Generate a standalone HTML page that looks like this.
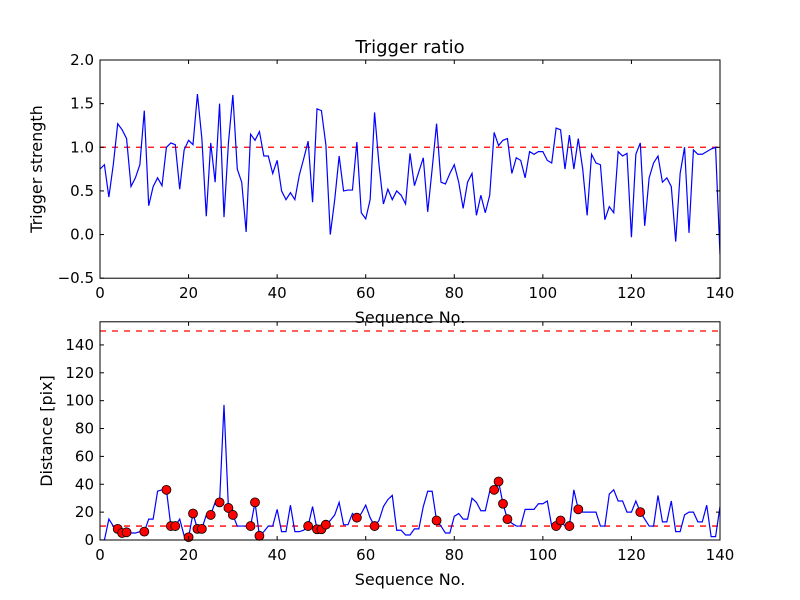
<!DOCTYPE html>
<html><head><meta charset="utf-8"><style>
body{margin:0;background:#fff}
svg{display:block;font-family:"DejaVu Sans","Liberation Sans",sans-serif}
</style></head><body>
<svg id="chart" width="800" height="600" xmlns="http://www.w3.org/2000/svg">
<rect width="800" height="600" fill="#fff"/>
</svg>
<script>
const seqTop = Array.from({length:141},(_,i)=>i);
const strength = [0.75,0.8,0.43,0.8,1.27,1.2,1.1,0.55,0.65,0.8,1.42,0.33,0.55,0.65,0.56,1.0,1.05,1.03,0.52,0.97,1.08,1.03,1.61,1.1,0.21,1.05,0.6,1.5,0.2,1.05,1.6,0.75,0.6,0.03,1.15,1.08,1.18,0.9,0.9,0.7,0.85,0.5,0.4,0.48,0.4,0.68,0.87,1.07,0.37,1.44,1.42,1.03,0.0,0.4,0.9,0.5,0.51,0.51,1.06,0.25,0.18,0.4,1.4,0.8,0.35,0.52,0.4,0.5,0.45,0.35,0.93,0.56,0.72,0.88,0.26,0.75,1.27,0.6,0.58,0.7,0.8,0.6,0.3,0.6,0.7,0.22,0.45,0.25,0.45,1.17,1.02,1.08,1.1,0.7,0.88,0.85,0.65,0.95,0.92,0.95,0.95,0.85,0.82,1.22,1.2,0.75,1.14,0.75,1.1,0.75,0.22,0.92,0.82,0.8,0.17,0.32,0.25,0.95,0.9,0.93,-0.03,0.92,1.05,0.1,0.65,0.82,0.9,0.6,0.65,0.55,-0.08,0.7,1.0,0.02,0.97,0.92,0.92,0.95,0.98,1.0,-0.23];
const distance = [0,0,15,10,8,5,5.5,5,5,6,6,15,15,35,36,36,10,10,15,3,2,19,8,8,18,18,27,27,97,23,18,10,10,10,10,27,3,6,10,10,22,6,6,25,6,6,7,10,24,7.7,7.7,11,14,18,27,11,11,19,16,19,25,16,10,14,24,29,32,7,7,3.6,3.6,8,8,24,35,35,14,10,5,5,17,19,15,15,30,27,21,21,35,36,42,26,15,12,10,10,22,22,22,26,26,28,10,10,14,10,10,36,22,20,20,20,20,10,10,33,36,28,28,20,20,28,20,15,10,10,32,13,13,28,6,6,18,20,20,13,13,25,2.4,2.4,24];
const markerIdx = [4,5,6,10,15,16,17,20,21,22,23,25,27,29,30,34,35,36,47,49,50,51,58,62,76,89,90,91,92,103,104,106,108,122];
const xTicks = [0,20,40,60,80,100,120,140];
const yTicksTop = [-0.5,0.0,0.5,1.0,1.5,2.0];
const yTicksBot = [0,20,40,60,80,100,120,140];

const svg=document.getElementById('chart');
const NS='http://www.w3.org/2000/svg';
function mk(tag,attrs,parent){const e=document.createElementNS(NS,tag);for(const k in attrs)e.setAttribute(k,attrs[k]);(parent||svg).appendChild(e);return e;}
const L=100,R=720;
const T1=60,B1=278.2,T2=321.8,B2=540;
const xs=v=>L+(v-0)/140*(R-L);
const y1=v=>B1-(v+0.5)/2.5*(B1-T1);
const y2=v=>B2-v/156.6*(B2-T2);

function axes(T,B,yfn,yticks,fmt,name){
  const g=mk('g',{});
  
  
  xTicks.forEach(t=>{
    const x=xs(t);
    mk('line',{x1:x,x2:x,y1:B,y2:B-4,stroke:'#000'},g);
    mk('line',{x1:x,x2:x,y1:T,y2:T+4,stroke:'#000'},g);
    const tx=mk('text',{x:x,y:B+20,'text-anchor':'middle','font-size':15},g);
    tx.textContent=t;
    
    
  });
  yticks.forEach(t=>{
    const y=yfn(t);
    mk('line',{x1:L,x2:L+4,y1:y,y2:y,stroke:'#000'},g);
    mk('line',{x1:R,x2:R-4,y1:y,y2:y,stroke:'#000'},g);
    const tx=mk('text',{x:L-6,y:y+5,'text-anchor':'end','font-size':15},g);
    tx.textContent=fmt(t);
    
    
  });
  return g;
}
function frame(T,B){mk('rect',{x:L,y:T,width:R-L,height:B-T,fill:'none',stroke:'#000','stroke-width':1});}

const clip1=mk('clipPath',{id:'c1'});mk('rect',{x:L,y:T1,width:R-L,height:B1-T1},clip1);
const clip2=mk('clipPath',{id:'c2'});mk('rect',{x:L,y:T2,width:R-L,height:B2-T2},clip2);
const ref1=mk('line',{x1:L,x2:R,y1:y1(1),y2:y1(1),stroke:'#f00','stroke-dasharray':'6,6','stroke-width':1.3});


const l1=mk('polyline',{points:strength.map((v,i)=>xs(seqTop[i])+','+y1(v)).join(' '),fill:'none',stroke:'#00f','stroke-width':1.2,'clip-path':'url(#c1)'});


axes(T1,B1,y1,yTicksTop,t=>t.toFixed(1).replace('-','\u2212'),'top-axes');
frame(T1,B1);

[10,150].forEach(v=>{
  const r=mk('line',{x1:L,x2:R,y1:y2(v),y2:y2(v),stroke:'#f00','stroke-dasharray':'6,6','stroke-width':1.3});
  
  
});
const l2=mk('polyline',{points:distance.map((v,i)=>xs(seqTop[i])+','+y2(v)).join(' '),fill:'none',stroke:'#00f','stroke-width':1.2,'clip-path':'url(#c2)'});


markerIdx.forEach(i=>{
  const c=mk('circle',{cx:xs(seqTop[i]),cy:y2(distance[i]),r:4.5,fill:'#f00',stroke:'#000','stroke-width':0.8});
  
  
});
axes(T2,B2,y2,yTicksBot,t=>t,'bottom-axes');
frame(T2,B2);

function label(txt,x,y,size,name,rot){
  const a={x:x,y:y,'text-anchor':'middle','font-size':size};
  if(rot)a.transform='rotate(-90 '+x+' '+y+')';
  const t=mk('text',a);t.textContent=txt;
  
  
}
label('Trigger ratio',410,53,18,'top-title');
label('Sequence No.',410,323,16,'top-x-axis-title');
label('Trigger strength',42,169,16,'top-y-axis-title',true);
label('Sequence No.',410,585,16,'bottom-x-axis-title');
label('Distance [pix]',52,431,16,'bottom-y-axis-title',true);
</script>
</body></html>
